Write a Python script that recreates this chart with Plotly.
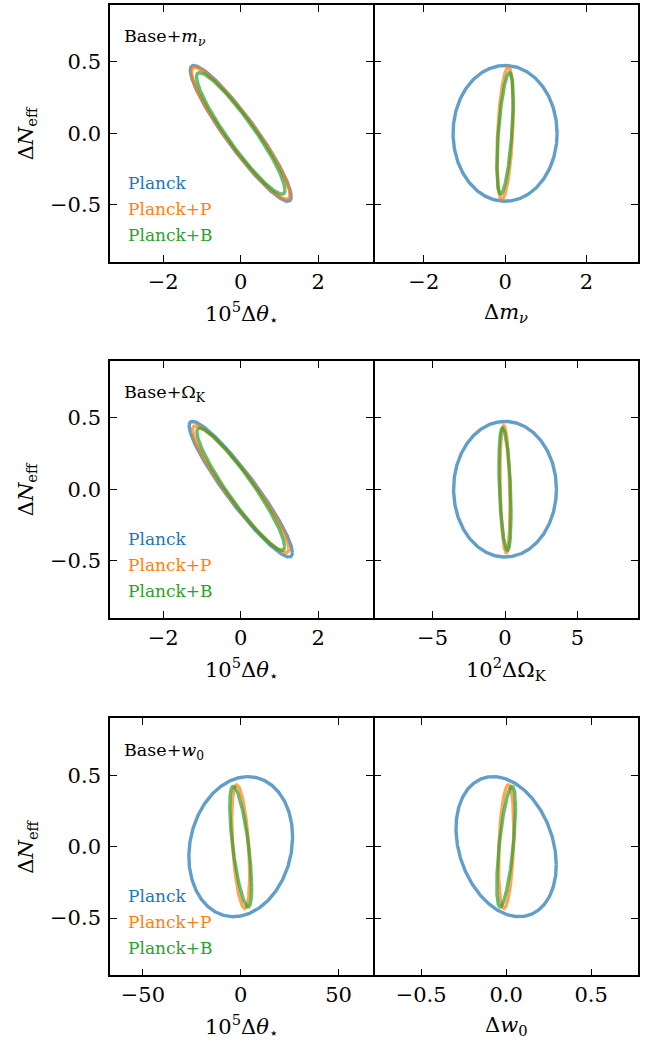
import numpy as np
import plotly.graph_objects as go

# ---------------------------------------------------------------------------
# Forecast contours: half-extent of each parameter and correlation with N_eff
# ---------------------------------------------------------------------------
SERIES = ["Planck", "Planck+P", "Planck+B"]
COLORS = ["#1f77b4", "#ff7f0e", "#2ca02c"]

# Base + m_nu
neff_mnu = [0.475, 0.462, 0.425]
theta_mnu = [1.30, 1.27, 1.14]
rho_theta_mnu = [-0.93, -0.93, -0.93]
mnu = [1.28, 0.20, 0.20]
rho_mnu = [0.0, 0.40, 0.55]

# Base + Omega_K
neff_ok = [0.475, 0.445, 0.428]
theta_ok = [1.33, 1.24, 1.13]
rho_theta_ok = [-0.935, -0.935, -0.935]
omk = [3.55, 0.35, 0.42]
rho_omk = [0.0, -0.25, -0.40]

# Base + w_0
neff_w0 = [0.49, 0.432, 0.422]
theta_w0 = [26.5, 4.6, 5.6]
rho_theta_w0 = [0.14, -0.45, -0.68]
w0 = [0.295, 0.045, 0.055]
rho_w0 = [-0.26, 0.30, 0.65]

# axis ticks
y_ticks = [-0.5, 0.0, 0.5]
y_ticktext = ["\u22120.5", "0.0", "0.5"]
theta_ticks = [-2, 0, 2]
theta_ticktext = ["\u22122", "0", "2"]
mnu_ticks = [-2, 0, 2]
mnu_ticktext = ["\u22122", "0", "2"]
omk_ticks = [-5, 0, 5]
omk_ticktext = ["\u22125", "0", "5"]
theta_w0_ticks = [-50, 0, 50]
theta_w0_ticktext = ["\u221250", "0", "50"]
w0_ticks = [-0.5, 0.0, 0.5]
w0_ticktext = ["\u22120.5", "0.0", "0.5"]

FONT = "DejaVu Serif"
W, H = 651, 1044
LW = 1.6  # frame line width


def contour(sx, sy, rho, n=400):
    """Ellipse with x half-extent sx, y half-extent sy and correlation rho."""
    t = np.linspace(0, 2 * np.pi, n)
    x = sx * np.cos(t)
    y = sy * (rho * np.cos(t) + np.sqrt(1 - rho ** 2) * np.sin(t))
    return x, y


def px(x):
    return x / W


def py(y):
    return 1 - y / H


# panel geometry (pixels); the right column starts one frame width later so
# the shared frame edges coincide
col_x = [(110, 373), (373 + LW, 638)]
row_y = [(4.7, 262.0), (360.7, 617.7), (718.0, 975.3)]

panels = [
    # (row, col, x sizes, rho, neff sizes, xrange, xticks, xticktext, xtitle)
    (0, 0, theta_mnu, rho_theta_mnu, neff_mnu, [-3.37, 3.41], theta_ticks, theta_ticktext,
     "10<sup>5</sup>\u0394<i>\u03b8</i><sub>\u22c6</sub>"),
    (0, 1, mnu, rho_mnu, neff_mnu, [-3.21, 3.27], mnu_ticks, mnu_ticktext,
     "\u0394<i>m</i><sub><i>\u03bd</i></sub>"),
    (1, 0, theta_ok, rho_theta_ok, neff_ok, [-3.37, 3.41], theta_ticks, theta_ticktext,
     "10<sup>5</sup>\u0394<i>\u03b8</i><sub>\u22c6</sub>"),
    (1, 1, omk, rho_omk, neff_ok, [-9.0, 9.18], omk_ticks, omk_ticktext,
     "10<sup>2</sup>\u0394\u03a9<sub>K</sub>"),
    (2, 0, theta_w0, rho_theta_w0, neff_w0, [-66.8, 67.6], theta_w0_ticks, theta_w0_ticktext,
     "10<sup>5</sup>\u0394<i>\u03b8</i><sub>\u22c6</sub>"),
    (2, 1, w0, rho_w0, neff_w0, [-0.774, 0.776], w0_ticks, w0_ticktext,
     "\u0394<i>w</i><sub>0</sub>"),
]

row_labels = [
    "Base+<i>m</i><sub><i>\u03bd</i></sub>",
    "Base+\u03a9<sub>K</sub>",
    "Base+<i>w</i><sub>0</sub>",
]

fig = go.Figure()
layout = dict(
    width=W, height=H,
    margin=dict(l=0, r=0, t=0, b=0),
    paper_bgcolor="white", plot_bgcolor="white",
    showlegend=False,
    font=dict(family=FONT, color="black", size=18),
)

axis_common = dict(
    showline=True, linecolor="black", linewidth=LW, mirror="ticks",
    ticks="inside", ticklen=7, tickwidth=1.4, tickcolor="black",
    showgrid=False, zeroline=False, fixedrange=True,
    tickfont=dict(family=FONT, size=21, color="black"),
)

annotations = []
for k, (r, c, sxs, rhos, sys_, xr, xt, xtt, xtitle) in enumerate(panels):
    idx = k + 1
    xa = "x" if idx == 1 else f"x{idx}"
    ya = "y" if idx == 1 else f"y{idx}"
    for i in range(3):
        x, y = contour(sxs[i], sys_[i], rhos[i])
        fig.add_trace(go.Scatter(
            x=x, y=y, mode="lines", xaxis=xa, yaxis=ya,
            line=dict(color=COLORS[i], width=3.4), opacity=0.7,
            hoverinfo="skip", showlegend=False,
        ))
    x0, x1 = col_x[c]
    y0, y1 = row_y[r]
    layout["xaxis" if idx == 1 else f"xaxis{idx}"] = dict(
        axis_common, domain=[px(x0), px(x1)], range=xr,
        tickvals=xt, ticktext=xtt, anchor=ya,
    )
    layout["yaxis" if idx == 1 else f"yaxis{idx}"] = dict(
        axis_common, domain=[py(y1), py(y0)], range=[-0.9, 0.9],
        tickvals=y_ticks, ticktext=y_ticktext, anchor=xa,
        showticklabels=(c == 0), ticklabelstandoff=3,
    )
    # x-axis title
    annotations.append(dict(
        text=xtitle, xref="paper", yref="paper",
        x=px((x0 + x1) / 2), y=py(y1 + 51), xanchor="center", yanchor="middle",
        showarrow=False, font=dict(family=FONT, size=21, color="black"),
    ))
    if c == 0:
        # y-axis title
        annotations.append(dict(
            text="\u0394<i>N</i><sub>eff</sub>", xref="paper", yref="paper",
            x=px(27), y=py((y0 + y1) / 2), xanchor="center", yanchor="middle",
            textangle=-90, showarrow=False,
            font=dict(family=FONT, size=21, color="black"),
        ))
        # model label
        annotations.append(dict(
            text=row_labels[r], xref="paper", yref="paper",
            x=px(122), y=py(y0 + 33), xanchor="left", yanchor="middle",
            showarrow=False, font=dict(family=FONT, size=17.5, color="black"),
        ))
        # data-combination labels
        for i, name in enumerate(SERIES):
            annotations.append(dict(
                text=name, xref="paper", yref="paper",
                x=px(126), y=py(y0 + 178 + 26 * i), xanchor="left", yanchor="middle",
                showarrow=False, font=dict(family=FONT, size=17, color=COLORS[i]),
            ))

layout["annotations"] = annotations
fig.update_layout(**layout)
fig.write_html("out.html")
